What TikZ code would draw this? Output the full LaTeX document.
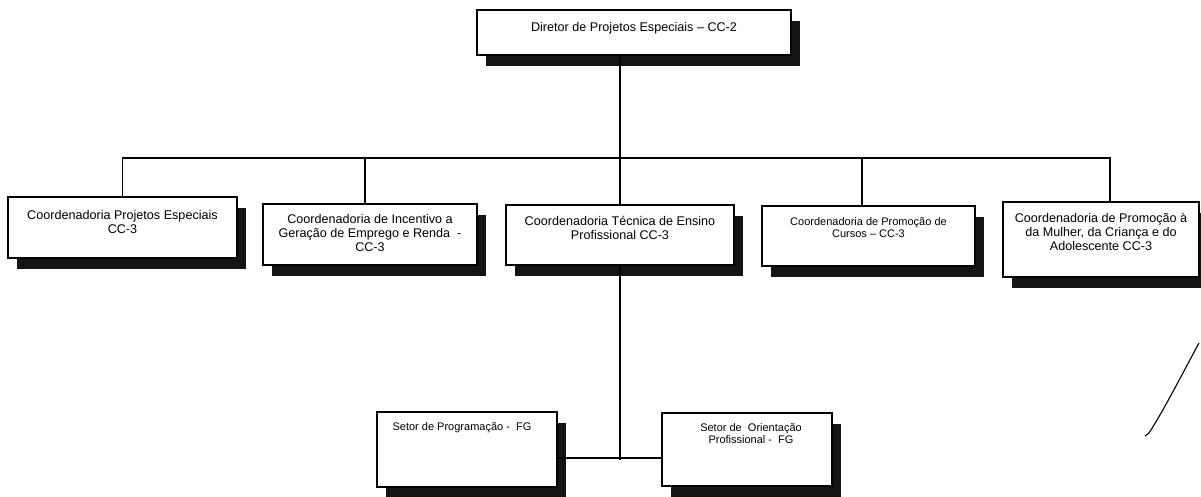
\documentclass[tikz,border=0pt]{standalone}
\usepackage{fontspec}
\setmainfont{Liberation Sans}
\usetikzlibrary{shadows,calc}
\newcommand{\bigtxt}{\fontsize{12.6}{14}\selectfont}
\newcommand{\smalltxt}{\fontsize{11}{12}\selectfont}
\begin{document}
\begin{tikzpicture}[x=1pt,y=-1pt,
  box/.style={draw, fill=white, line width=1.2pt, inner sep=0pt, outer sep=0pt,
    drop shadow={shadow xshift=9pt, shadow yshift=-11pt, fill=black!92, opacity=1}},
  txt/.style={anchor=north, align=center, inner sep=0pt, yshift=-#1},
  txt/.default=11pt,
  wire/.style={line width=1.2pt}]
\useasboundingbox (0,0) rectangle (1201,497);

% director
\node[box, minimum width=314pt, minimum height=45pt,
  label={[txt=12pt,font=\bigtxt]north:Diretor de Projetos Especiais -- CC-2}]
  (top) at (634,32.5) {};

% coordination level
\node[box, minimum width=229pt, minimum height=61pt,
  label={[txt=13pt,font=\bigtxt]north:Coordenadoria Projetos Especiais\\CC-3}]
  (b1) at (122.5,227.5) {};
\node[box, minimum width=214pt, minimum height=61pt,
  label={[txt=10pt,font=\bigtxt]north:Coordenadoria de Incentivo a\\Geração de Emprego e Renda~~-\\CC-3}]
  (b2) at (370,234.5) {};
\node[box, minimum width=228pt, minimum height=60pt,
  label={[txt=11pt,font=\bigtxt]north:Coordenadoria Técnica de Ensino\\Profissional CC-3}]
  (b3) at (620,235) {};
\node[box, minimum width=213pt, minimum height=60pt,
  label={[txt=11pt,font=\smalltxt]north:Coordenadoria de Promoção de\\Cursos -- CC-3}]
  (b4) at (868.5,236) {};
\node[box, minimum width=196pt, minimum height=75pt,
  label={[txt=11pt,font=\bigtxt]north:Coordenadoria de Promoção à\\da Mulher, da Criança e do\\Adolescente CC-3}]
  (b5) at (1101,239.5) {};

% sectors
\node[box, minimum width=180pt, minimum height=75pt,
  label={[txt=10pt,font=\smalltxt,xshift=-5pt]north:Setor de Programação -~~FG}]
  (s1) at (467,449.5) {};
\node[box, minimum width=170pt, minimum height=73pt,
  label={[txt=10pt,font=\smalltxt,xshift=4pt]north:Setor de~~Orientação\\Profissional -~~FG}]
  (s2) at (747,449.5) {};

% connectors
\coordinate (bus) at (0,158);
\coordinate (jn) at (620,458);
\draw[wire] (top.south -| b3.north) -- (b3.north);
\draw[wire] (b1.north) -- (b1.north |- bus) -- ([xshift=9pt]b5.north |- bus) -- ([xshift=9pt]b5.north);
\draw[wire] ([xshift=-5pt]b2.north) -- ([xshift=-5pt]b2.north |- bus);
\draw[wire] ([xshift=-6.5pt]b4.north) -- ([xshift=-6.5pt]b4.north |- bus);
\draw[wire] (b3.south) -- (jn) -- ++(0,2);
\draw[wire] (s1.east |- jn) -- (s2.west |- jn);

% pen stroke at the right
\draw[line width=1.1pt] (1199,343) .. controls (1180,378) and (1165,408) .. (1149,433) -- (1145,436);
\end{tikzpicture}
\end{document}
